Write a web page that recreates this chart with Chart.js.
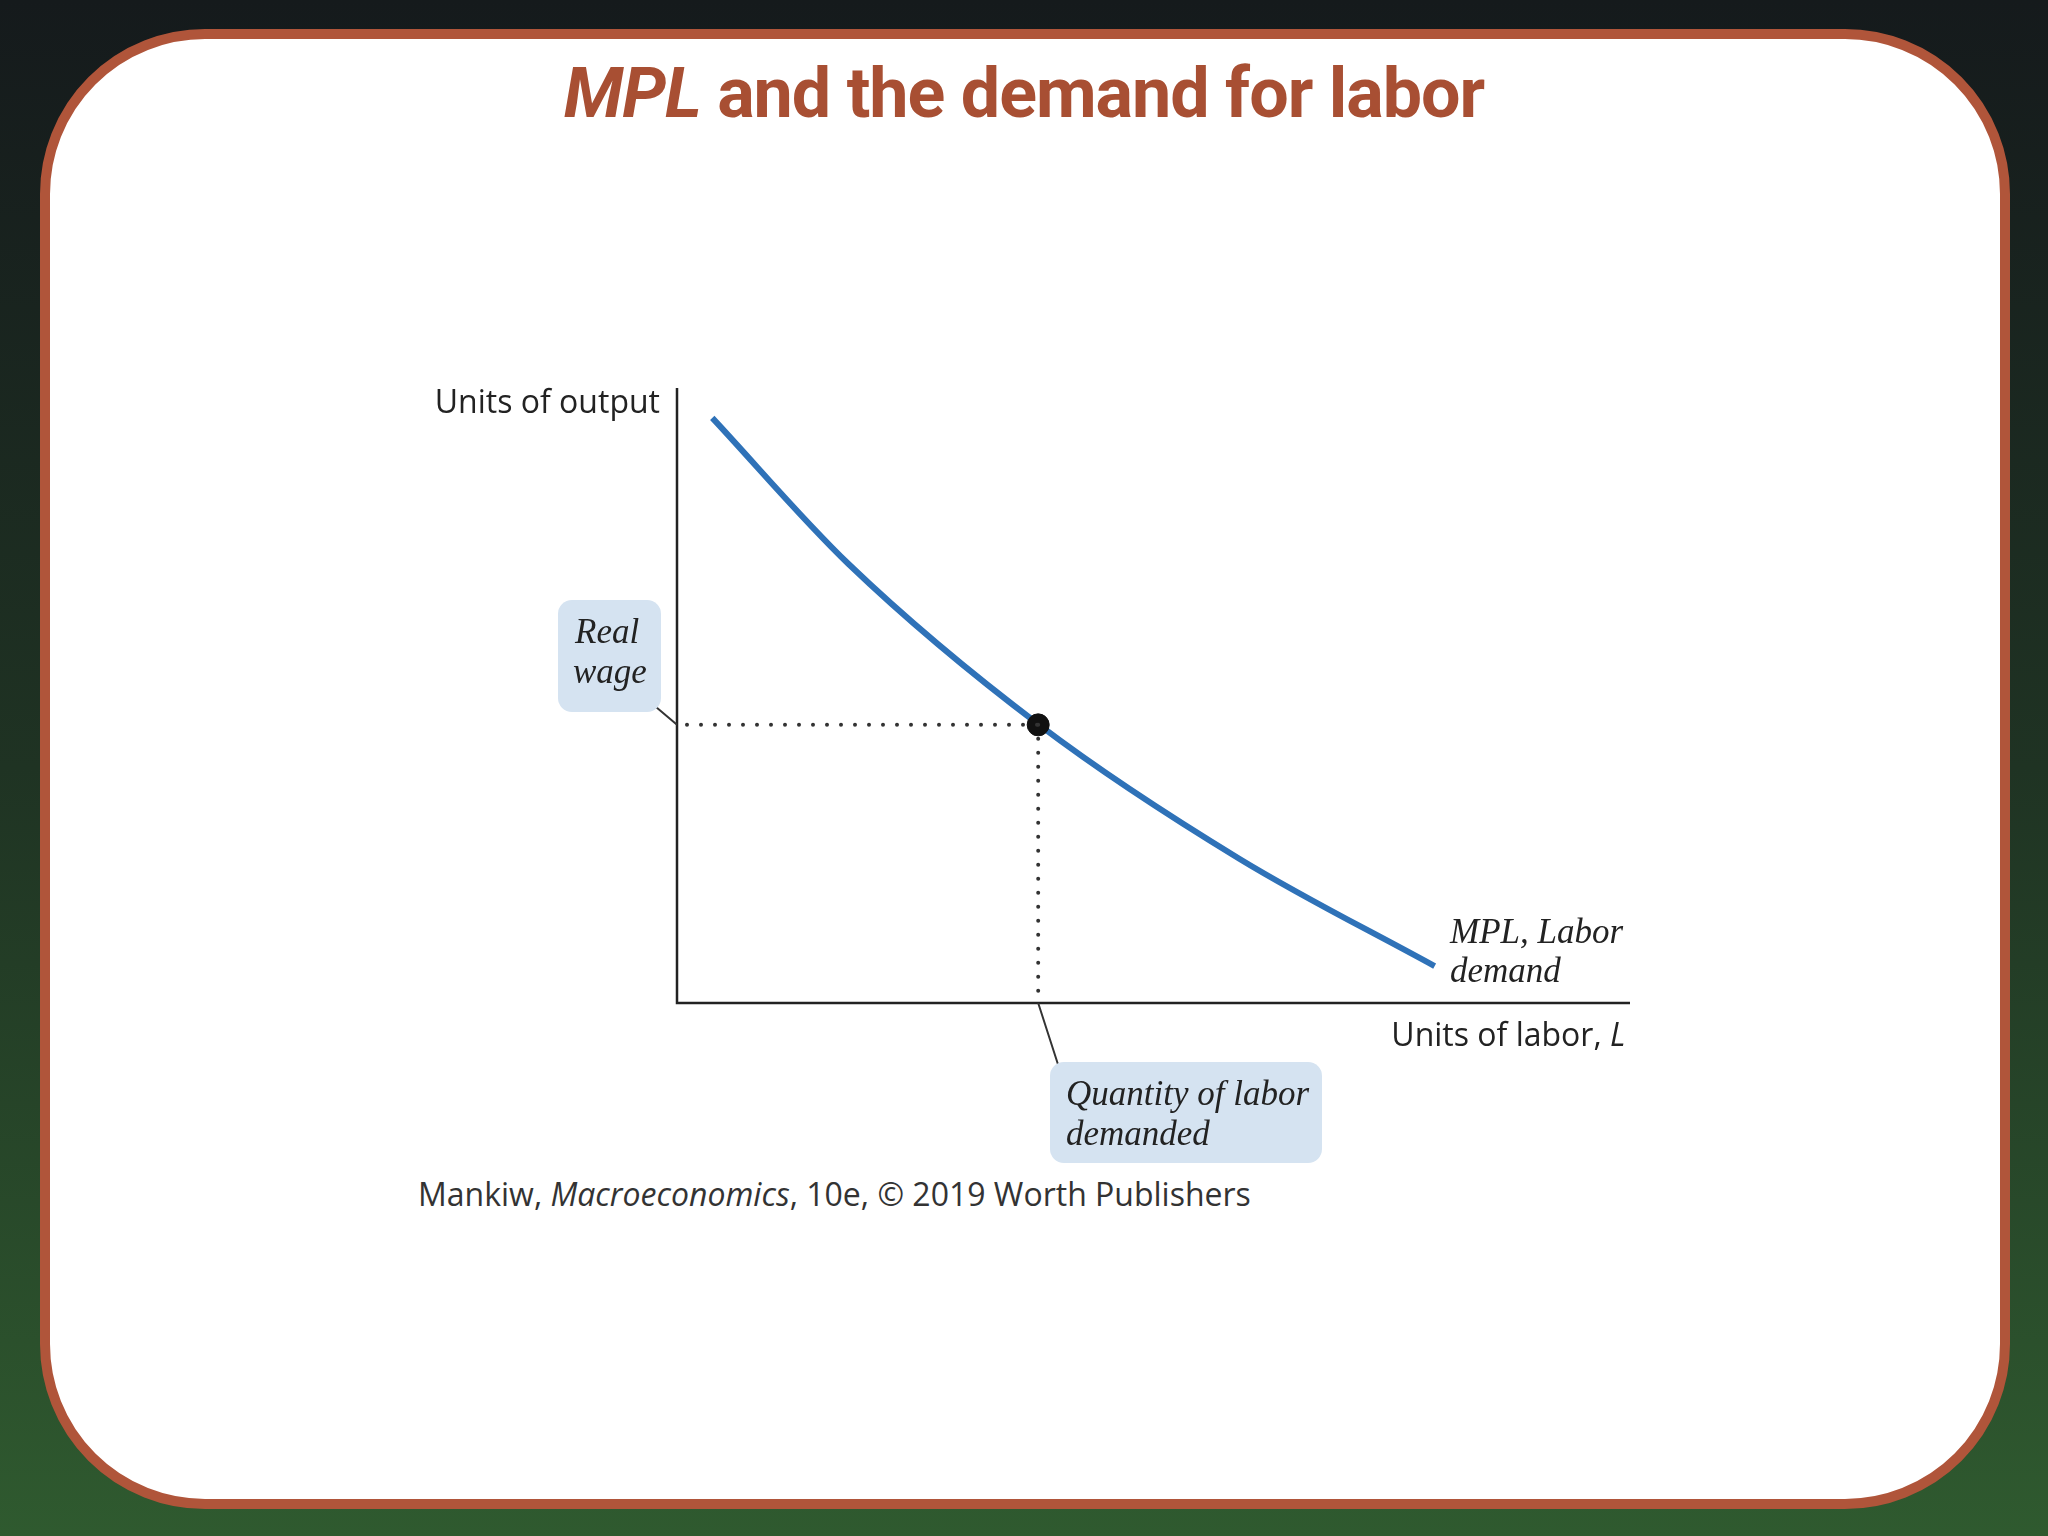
<!DOCTYPE html>
<html><head><meta charset="utf-8">
<script src="https://cdn.jsdelivr.net/npm/chart.js@4/dist/chart.umd.min.js"></script>
<style>
html,body{margin:0;padding:0;width:2048px;height:1536px;overflow:hidden;background:linear-gradient(#151a1c 0%,#1f3323 50%,#2f5a2f 100%);}
#panel{position:absolute;left:40px;top:29px;width:1950px;height:1460px;background:#fff;border:10px solid #b0553a;border-radius:165px;}
#title{position:absolute;left:0;width:2048px;top:52px;text-align:center;font:bold 70px Roboto,sans-serif;color:#a84f33;letter-spacing:-1px;}
#credit{position:absolute;left:418px;top:1172px;font:32px "Open Sans",sans-serif;color:#333;}
canvas{position:absolute;left:0;top:0;}
</style></head><body>
<div id="panel"></div>
<div id="title"><i>MPL</i> and the demand for labor</div>
<div id="credit">Mankiw, <i>Macroeconomics</i>, 10e, © 2019 Worth Publishers</div>
<canvas id="c" width="2048" height="1536"></canvas>
<script>
const labor=[3.7,18,38,59,79.5];
const mpl=[95.3,71.5,45.3,23.5,6];
const eqLabor=[37.9];
const eqWage=[45.3];
function box(ctx,x,y,w,h,r){ctx.beginPath();ctx.roundRect(x,y,w,h,r);ctx.fillStyle='#d5e3f1';ctx.fill();}
const ann={id:'ann',afterDatasetsDraw(ch){
 const ctx=ch.ctx,xs=ch.scales.x,ys=ch.scales.y,a=ch.chartArea;
 ctx.save();
 ctx.strokeStyle='#222';ctx.lineWidth=2.5;
 ctx.beginPath();ctx.moveTo(a.left,a.top-1);ctx.lineTo(a.left,a.bottom);ctx.lineTo(a.right,a.bottom);ctx.stroke();
 const px=xs.getPixelForValue(eqLabor[0]),py=ys.getPixelForValue(eqWage[0]);
 ctx.setLineDash([0,14]);ctx.lineCap='round';ctx.lineWidth=4;ctx.strokeStyle='#333';
 ctx.beginPath();ctx.moveTo(a.left+10,py);ctx.lineTo(px,py);ctx.moveTo(px,py);ctx.lineTo(px,a.bottom);ctx.stroke();
 ctx.setLineDash([]);ctx.lineWidth=2;ctx.lineCap='butt';
 ctx.beginPath();ctx.moveTo(656,707);ctx.lineTo(a.left,py);ctx.moveTo(px,a.bottom);ctx.lineTo(px+20,1065);ctx.stroke();
 box(ctx,558,600,103,112,14);box(ctx,1050,1062,272,101,14);
 ctx.fillStyle='#222';ctx.font='32px "Open Sans",sans-serif';ctx.textBaseline='alphabetic';
 ctx.textAlign='right';ctx.fillText('Units of output',660,413);
 ctx.fillText('Units of labor, ',1610,1046);
 ctx.font='italic 32px "Open Sans",sans-serif';ctx.textAlign='left';ctx.fillText('L',1610,1046);
 ctx.font='italic 35px "Liberation Serif",serif';
 ctx.fillText('Real',575,643);ctx.fillText('wage',573,683);
 ctx.fillText('Quantity of labor',1066,1105);ctx.fillText('demanded',1066,1145);
 ctx.fillText('MPL, Labor',1450,943);ctx.fillText('demand',1450,982);
 ctx.restore();
}};
new Chart(document.getElementById('c'),{type:'scatter',
 data:{datasets:[
  {data:labor.map((v,i)=>({x:v,y:mpl[i]})),showLine:true,cubicInterpolationMode:'monotone',borderColor:'#2f72b8',borderWidth:6,pointRadius:0,order:2},
  {data:eqLabor.map((v,i)=>({x:v,y:eqWage[i]})),pointRadius:11,backgroundColor:'#111',borderColor:'#111',order:1}]},
 options:{responsive:false,animation:false,layout:{padding:{left:677,right:418,top:389,bottom:533}},
  plugins:{legend:{display:false},tooltip:{enabled:false}},
  scales:{x:{display:false,min:0,max:100},y:{display:false,min:0,max:100}}},
 plugins:[ann]});
</script></body></html>
